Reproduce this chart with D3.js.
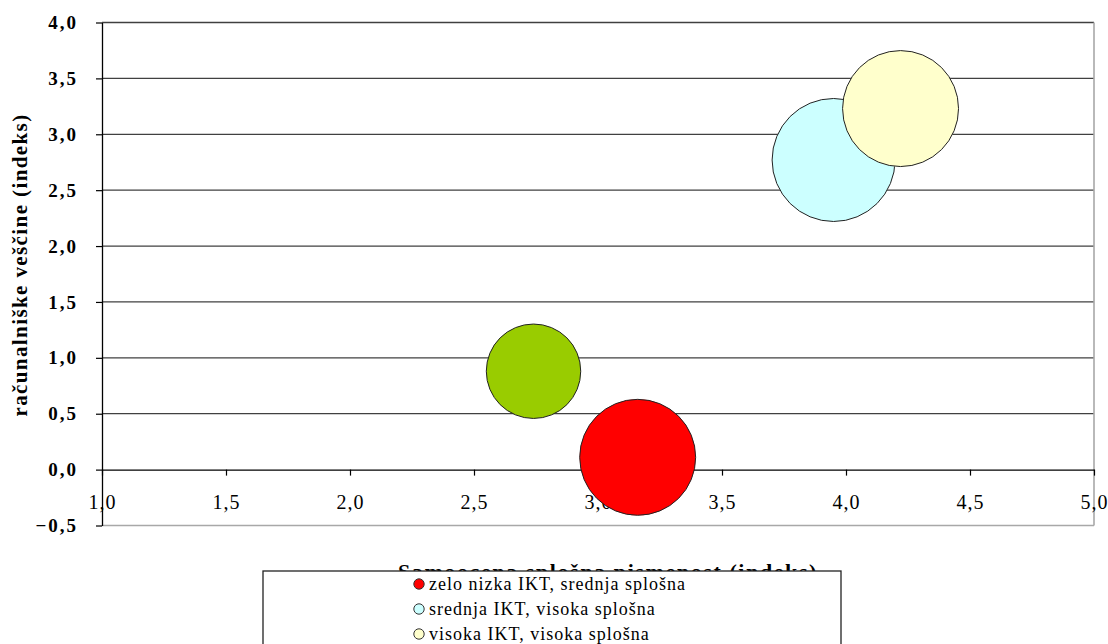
<!DOCTYPE html>
<html>
<head>
<meta charset="utf-8">
<script src="https://cdn.jsdelivr.net/npm/d3@7"></script>
<style>
  html, body { margin: 0; padding: 0; background: #fff; }
  svg { display: block; }
  svg text { font-family: "Liberation Serif", "DejaVu Serif", serif; }
</style>
</head>
<body>
<svg id="chart" width="1108" height="644"></svg>
<script>
// Bubble series: self-assessed literacy (x), computer skills (y), group share (size)
const seriesNames = [
  "zelo nizka IKT, srednja splošna",
  "srednja IKT, visoka splošna",
  "visoka IKT, visoka splošna",
  "nizka IKT, srednja splošna"
];
const xValues = [3.16, 3.95, 4.22, 2.74];
const yValues = [0.11, 2.77, 3.23, 0.88];
const sizeValues = [26.4, 29.7, 26.4, 17.5];
const seriesColors = ["#ff0000", "#ccffff", "#ffffcc", "#99cc00"];
const legendCount = 3; // entries that fit above the page edge

const xTicks = [1.0, 1.5, 2.0, 2.5, 3.0, 3.5, 4.0, 4.5, 5.0];
const yTicks = [-0.5, 0.0, 0.5, 1.0, 1.5, 2.0, 2.5, 3.0, 3.5, 4.0];

const xTitle = "Samoocena splošna pismenost (indeks)";
const yTitle = "računalniške veščine (indeks)";

const svg = d3.select("#chart");
const serif = "Liberation Serif";

const x = d3.scaleLinear().domain([1, 5]).range([102, 1094]);
const y = d3.scaleLinear().domain([-0.5, 4]).range([525.5, 22.5]);
const r = d3.scaleSqrt().domain([0, d3.max(sizeValues)]).range([0, 61.5]);

const fmt = d3.formatLocale({ decimal: ",", thousands: ".", grouping: [3], currency: ["", ""] }).format(".1f");

// horizontal gridlines
svg.append("g")
  .selectAll("line")
  .data(yTicks.filter(v => v > 0))
  .join("line")
  .attr("x1", x(1)).attr("x2", x(5))
  .attr("y1", d => y(d)).attr("y2", d => y(d))
  .attr("stroke", "#404040")
  .attr("stroke-width", 1.3);

// plot-area frame (bottom and right)
svg.append("line")
  .attr("x1", x(1)).attr("x2", x(5))
  .attr("y1", y(-0.5)).attr("y2", y(-0.5))
  .attr("stroke", "#a8a8a8").attr("stroke-width", 1.6);
svg.append("line")
  .attr("x1", x(5)).attr("x2", x(5))
  .attr("y1", y(4)).attr("y2", y(-0.5))
  .attr("stroke", "#a8a8a8").attr("stroke-width", 1.6);

// x axis along y = 0
const xAxis = svg.append("g")
  .attr("transform", `translate(0,${y(0)})`)
  .call(d3.axisBottom(x).tickValues(xTicks).tickSize(6).tickSizeOuter(0).tickFormat(fmt))
  .attr("font-family", serif);
xAxis.select(".domain").attr("stroke", "#000").attr("stroke-width", 1.3);
xAxis.selectAll(".tick line").attr("stroke", "#000").attr("stroke-width", 1.2);
xAxis.selectAll(".tick text")
  .attr("y", 32).attr("dy", "0.35em")
  .attr("fill", "#000")
  .attr("font-family", serif)
  .attr("font-size", 20)
  .attr("letter-spacing", 1);

// y axis
const yAxis = svg.append("g")
  .attr("transform", `translate(${x(1)},0)`)
  .call(d3.axisLeft(y).tickValues(yTicks).tickSize(6).tickSizeOuter(0).tickPadding(18).tickFormat(fmt))
  .attr("font-family", serif);
yAxis.select(".domain").attr("stroke", "#000").attr("stroke-width", 1.3);
yAxis.selectAll(".tick line").attr("stroke", "#000").attr("stroke-width", 1.2);
yAxis.selectAll(".tick text")
  .attr("fill", "#000")
  .attr("font-family", serif)
  .attr("font-size", 19)
  .attr("font-weight", "bold")
  .attr("letter-spacing", 2);

// bubbles
const bubbles = xValues.map((v, i) => ({ x: v, y: yValues[i], s: sizeValues[i], c: seriesColors[i] }));
svg.append("g")
  .selectAll("circle")
  .data(bubbles)
  .join("circle")
  .attr("cx", d => x(d.x))
  .attr("cy", d => y(d.y))
  .attr("r", d => r(d.s))
  .attr("fill", d => d.c)
  .attr("stroke", "#222")
  .attr("stroke-width", 1);

// axis titles
svg.append("text")
  .attr("transform", `translate(27,265) rotate(-90)`)
  .attr("text-anchor", "middle")
  .attr("font-family", serif)
  .attr("font-size", 21)
  .attr("font-weight", "bold")
  .attr("letter-spacing", 1.4)
  .text(yTitle);

svg.append("text")
  .attr("x", 608).attr("y", 579)
  .attr("text-anchor", "middle")
  .attr("font-family", serif)
  .attr("font-size", 22)
  .attr("font-weight", "bold")
  .attr("letter-spacing", 1.6)
  .text(xTitle);

// legend box
const legend = svg.append("g");
legend.append("rect")
  .attr("x", 263).attr("y", 571)
  .attr("width", 578).attr("height", 120)
  .attr("fill", "#fff")
  .attr("stroke", "#222")
  .attr("stroke-width", 1.3);

const rows = legend.selectAll("g.row")
  .data(seriesNames.slice(0, legendCount).map((n, i) => ({ n, c: seriesColors[i], i })))
  .join("g")
  .attr("class", "row")
  .attr("transform", d => `translate(419,${584 + d.i * 25})`);
rows.append("circle")
  .attr("r", 5.2)
  .attr("fill", d => d.c)
  .attr("stroke", "#333")
  .attr("stroke-width", 1);
rows.append("text")
  .attr("x", 10).attr("dy", "0.35em")
  .attr("font-family", serif)
  .attr("font-size", 18)
  .attr("letter-spacing", 1)
  .text(d => d.n);
</script>
</body>
</html>
